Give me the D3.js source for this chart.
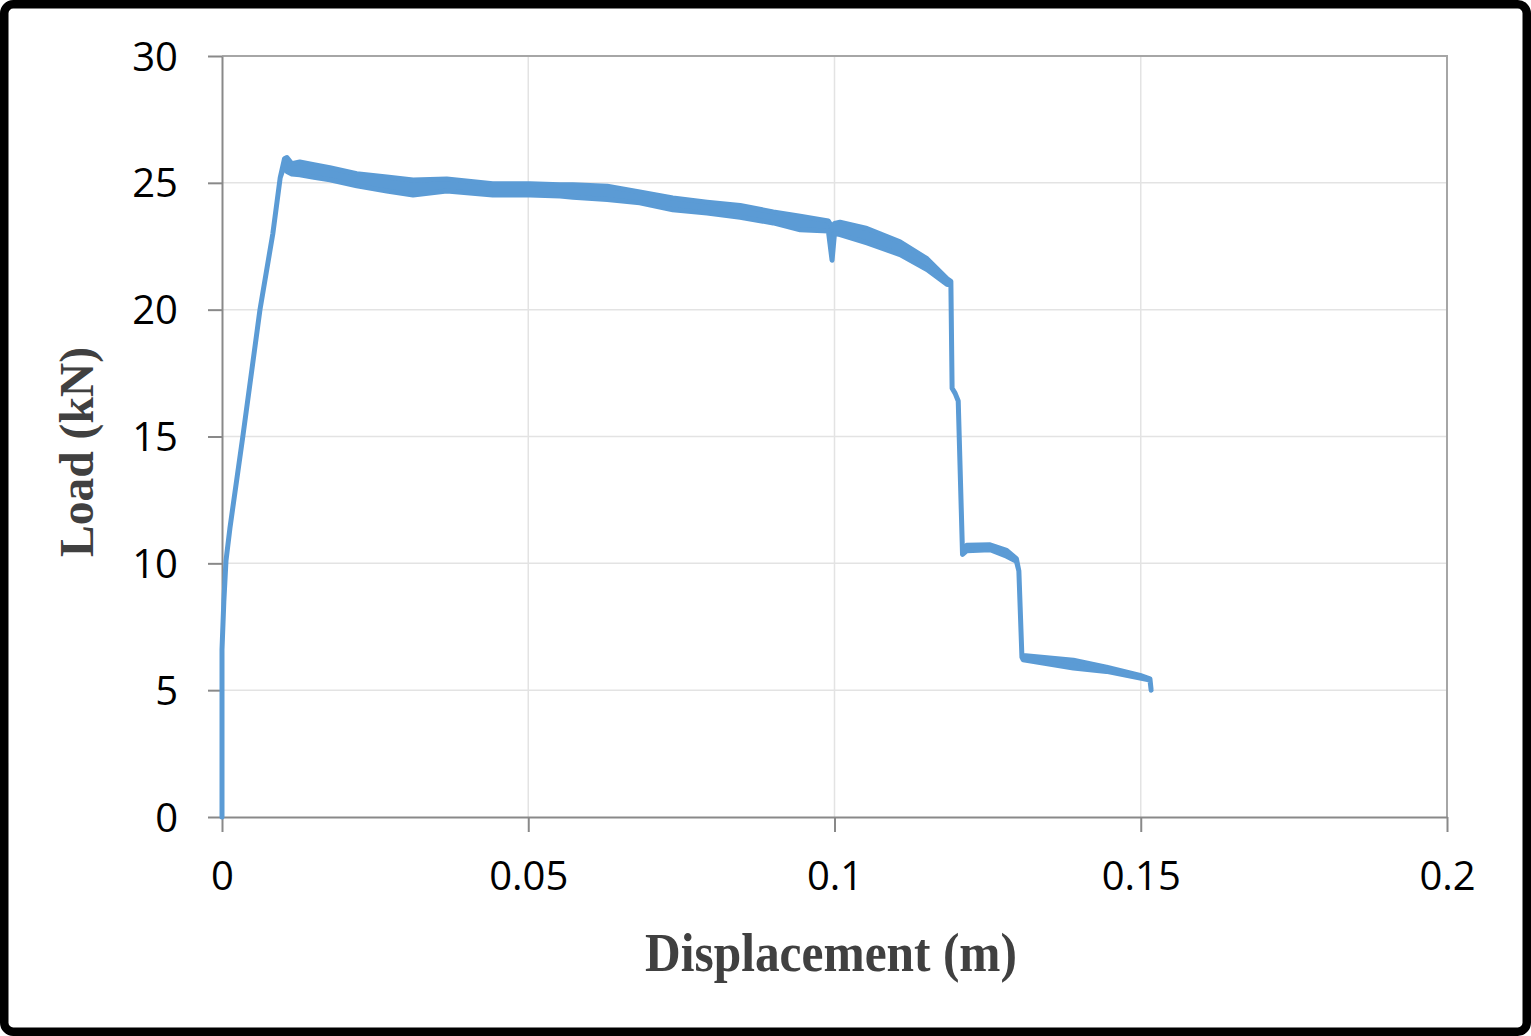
<!DOCTYPE html>
<html><head><meta charset="utf-8">
<script src="https://cdn.jsdelivr.net/npm/d3@7"></script>
<style>body{margin:0;background:#fff}</style>
</head><body><svg id="c" width="1531" height="1036"></svg>
<script>
// Displacement (m) and the upper / lower edge of the measured load band (kN)
const disp = [0, 0, 0.0003, 0.00065, 0.0013, 0.0034, 0.0062, 0.0083, 0.0095, 0.0102, 0.0106, 0.0114, 0.0127, 0.0150, 0.0176, 0.0220, 0.0269, 0.0312, 0.0367, 0.0442, 0.0503, 0.0552, 0.0573, 0.0629, 0.0682, 0.0736, 0.0792, 0.0846, 0.0900, 0.0944, 0.0990, 0.0996, 0.1000, 0.1009, 0.1053, 0.1107, 0.1151, 0.1184, 0.1190, 0.1192, 0.1197, 0.1202, 0.1209, 0.1216, 0.1254, 0.1281, 0.1297, 0.1301, 0.1306, 0.1308, 0.1390, 0.1444, 0.1499, 0.1515, 0.1517];
const loadUpper = [0, 6.6, 8.5, 10.1, 11.4, 15.0, 20.0, 23.0, 25.2, 25.95, 26.0, 25.75, 25.82, 25.71, 25.6, 25.36, 25.23, 25.11, 25.15, 24.96, 24.96, 24.92, 24.92, 24.87, 24.64, 24.40, 24.24, 24.11, 23.85, 23.68, 23.5, 23.25, 23.4, 23.45, 23.2, 22.67, 22.01, 21.22, 21.12, 16.9, 16.7, 16.4, 10.4, 10.71, 10.73, 10.51, 10.18, 9.7, 6.3, 6.37, 6.18, 5.91, 5.58, 5.45, 5.0];
const loadLower = [0, 6.6, 8.5, 10.1, 11.4, 15.0, 20.0, 23.0, 25.2, 25.7, 25.45, 25.35, 25.32, 25.22, 25.12, 24.88, 24.68, 24.52, 24.68, 24.52, 24.52, 24.48, 24.43, 24.34, 24.21, 23.94, 23.81, 23.64, 23.42, 23.15, 23.1, 21.95, 23.0, 22.96, 22.63, 22.17, 21.58, 20.99, 21.0, 16.9, 16.7, 16.4, 10.35, 10.5, 10.54, 10.28, 10.08, 9.7, 6.3, 6.2, 5.87, 5.74, 5.48, 5.40, 5.0];

const xTicks = [0, 0.05, 0.1, 0.15, 0.2];
const xTickLabels = ["0", "0.05", "0.1", "0.15", "0.2"];
const yTicks = [0, 5, 10, 15, 20, 25, 30];
const yTickLabels = ["0", "5", "10", "15", "20", "25", "30"];
const xTitle = "Displacement (m)";
const yTitle = "Load (kN)";

const svg = d3.select("#c");
const L = 222, R = 1447, T = 56, B = 817;
const x = d3.scaleLinear().domain([0, 0.2]).range([L, R]);
const y = d3.scaleLinear().domain([0, 30]).range([B, T]);

// outer frame
svg.append("rect").attr("x", 4.25).attr("y", 4.25).attr("width", 1522.5).attr("height", 1027.5)
  .attr("rx", 9).attr("fill", "#fff").attr("stroke", "#000").attr("stroke-width", 8.5);

// gridlines
svg.append("g").selectAll("line").data(yTicks.slice(1)).join("line")
  .attr("x1", L).attr("x2", R).attr("y1", d => y(d)).attr("y2", d => y(d))
  .attr("stroke", "#e3e3e3").attr("stroke-width", 1.5);
svg.append("g").selectAll("line").data(xTicks.slice(1)).join("line")
  .attr("y1", T).attr("y2", B).attr("x1", d => x(d)).attr("x2", d => x(d))
  .attr("stroke", "#e3e3e3").attr("stroke-width", 1.5);

// plot border top/right
svg.append("path").attr("d", `M${L},${y(30)}H${x(0.2)}V${B}`).attr("fill", "none")
  .attr("stroke", "#a6a6a6").attr("stroke-width", 2);

// axes
const ax = svg.append("g").attr("transform", `translate(0,${B})`)
  .call(d3.axisBottom(x).tickValues(xTicks).tickSize(15).tickSizeOuter(0).tickFormat((d, i) => xTickLabels[i]));
const ay = svg.append("g").attr("transform", `translate(${L},0)`)
  .call(d3.axisLeft(y).tickValues(yTicks).tickSize(14).tickSizeOuter(0).tickFormat((d, i) => yTickLabels[i]));
[ax, ay].forEach(g => {
  g.select(".domain").attr("stroke", "#898989").attr("stroke-width", 2);
  g.selectAll(".tick line").attr("stroke", "#898989").attr("stroke-width", 2);
  g.selectAll(".tick text").attr("fill", "#000").attr("font-family", "'Open Sans', sans-serif").attr("font-size", 40);
});
ax.selectAll(".tick text").attr("y", 0).attr("dy", 0).attr("transform", "translate(0,73)");
ay.selectAll(".tick text").attr("x", -44).attr("dy", 0).attr("transform", "translate(0,14)");

// data band
const band = d3.range(disp.length);
const area = d3.area()
  .x(i => x(disp[i]))
  .y0(i => y(loadLower[i]))
  .y1(i => y(loadUpper[i]));
svg.append("path").datum(band).attr("d", area)
  .attr("fill", "#5b9bd5").attr("stroke", "#5b9bd5").attr("stroke-width", 5)
  .attr("stroke-linejoin", "round");

// titles
svg.append("text").attr("x", 831).attr("y", 971).attr("text-anchor", "middle")
  .attr("font-family", "'Liberation Serif', 'Times New Roman', serif").attr("font-weight", "bold")
  .attr("font-size", 55).attr("fill", "#404040")
  .attr("textLength", 372).attr("lengthAdjust", "spacingAndGlyphs").text(xTitle);
svg.append("text").attr("transform", "translate(93,452) rotate(-90)").attr("text-anchor", "middle")
  .attr("font-family", "'Liberation Serif', 'Times New Roman', serif").attr("font-weight", "bold")
  .attr("font-size", 48).attr("fill", "#404040")
  .attr("textLength", 210).attr("lengthAdjust", "spacingAndGlyphs").text(yTitle);
</script></body></html>
